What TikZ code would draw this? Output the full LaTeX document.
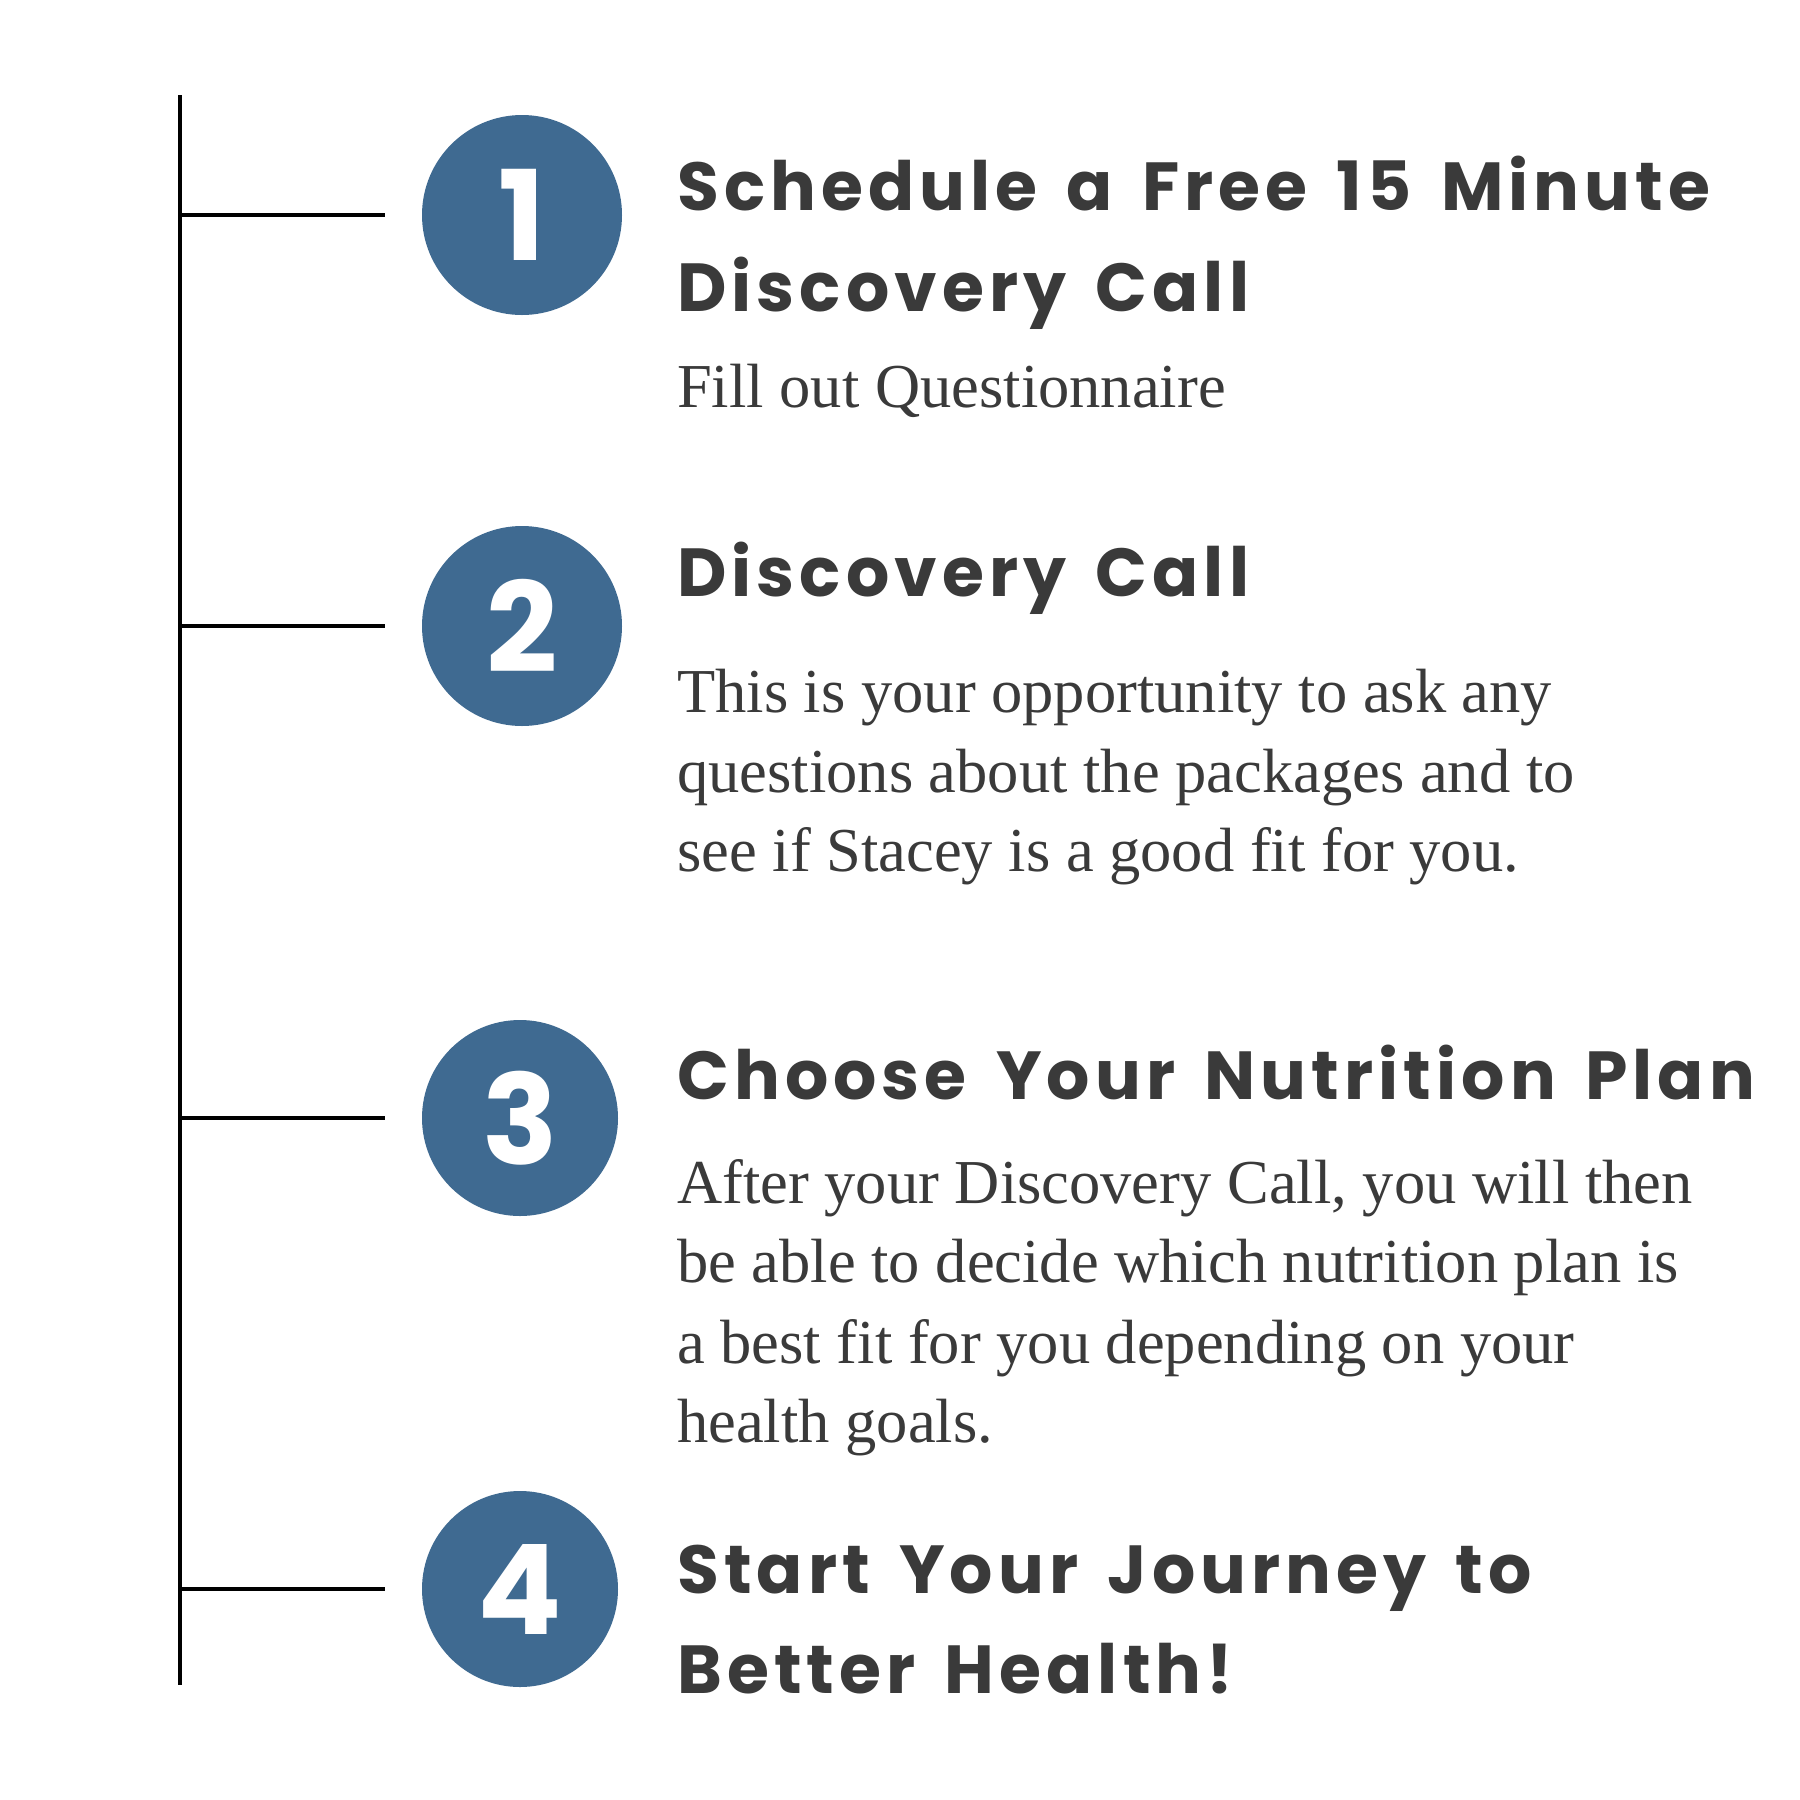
\documentclass[tikz,border=0pt]{standalone}
\usepackage{fontspec}
\setmainfont{Liberation Serif}
\newfontfamily\headfont{Poppins}[LetterSpace=7.5, WordSpace=1.5]
\newfontfamily\numfont{Poppins}
\definecolor{stepblue}{HTML}{3F6A91}
\definecolor{ink}{HTML}{3A3A3A}
\tikzset{
  rail/.style={line width=3.5pt, black},
  tick/.style={line width=3.5pt, black},
  badge/.style={circle, fill=stepblue, minimum size=200pt, inner sep=0pt,
    text=white, font=\numfont\bfseries\fontsize{125}{125}\selectfont},
  head/.style={anchor=base west, inner sep=0pt, text=ink,
    font=\headfont\bfseries\fontsize{68}{68}\selectfont},
  body/.style={anchor=base west, inner sep=0pt, text=ink,
    font=\fontsize{62.5}{62.5}\selectfont},
}
\begin{document}
\begin{tikzpicture}[x=1pt,y=-1pt]
\path[use as bounding box, fill=white] (0,0) rectangle (1800,1800);
% spine
\coordinate (top) at (180,95);
\coordinate (bot) at (180,1685);
\draw[rail] (top) -- (bot);
\coordinate (s1) at (180,215);  \coordinate (e1) at (385,215);
\coordinate (s2) at (180,626);  \coordinate (e2) at (385,626);
\coordinate (s3) at (180,1118); \coordinate (e3) at (385,1118);
\coordinate (s4) at (180,1589); \coordinate (e4) at (385,1589);
\draw[tick] (s1) -- (e1);
\draw[tick] (s2) -- (e2);
\draw[tick] (s3) -- (e3);
\draw[tick] (s4) -- (e4);
% badges
\node[badge] (b1) at (522,215) {1};
\node[badge] (b2) at (522,626) {2};
\node[badge, minimum size=196pt] (b3) at (520,1118) {3};
\node[badge, minimum size=196pt] (b4) at (520,1589) {4};
% step 1
\node[head] (h1a) at (677,210) {Schedule a Free 15 Minute};
\node[head] (h1b) at (677,311) {Discovery Call};
\node[body] (p1a) at (677,407) {Fill out Questionnaire};
% step 2
\node[head] (h2a) at (677,596) {Discovery Call};
\node[body] (p2a) at (677,712) {This is your opportunity to ask any};
\node[body] (p2b) at (677,792) {questions about the packages and to};
\node[body] (p2c) at (677,871) {see if Stacey is a good fit for you.};
% step 3
\node[head] (h3a) at (677,1099) {Choose Your Nutrition Plan};
\node[body] (p3a) at (677,1203) {After your Discovery Call, you will then};
\node[body] (p3b) at (677,1282) {be able to decide which nutrition plan is};
\node[body] (p3c) at (677,1363) {a best fit for you depending on your};
\node[body] (p3d) at (677,1442) {health goals.};
% step 4
\node[head] (h4a) at (677,1593) {Start Your Journey to};
\node[head] (h4b) at (677,1693) {Better Health!};
\end{tikzpicture}
\end{document}
